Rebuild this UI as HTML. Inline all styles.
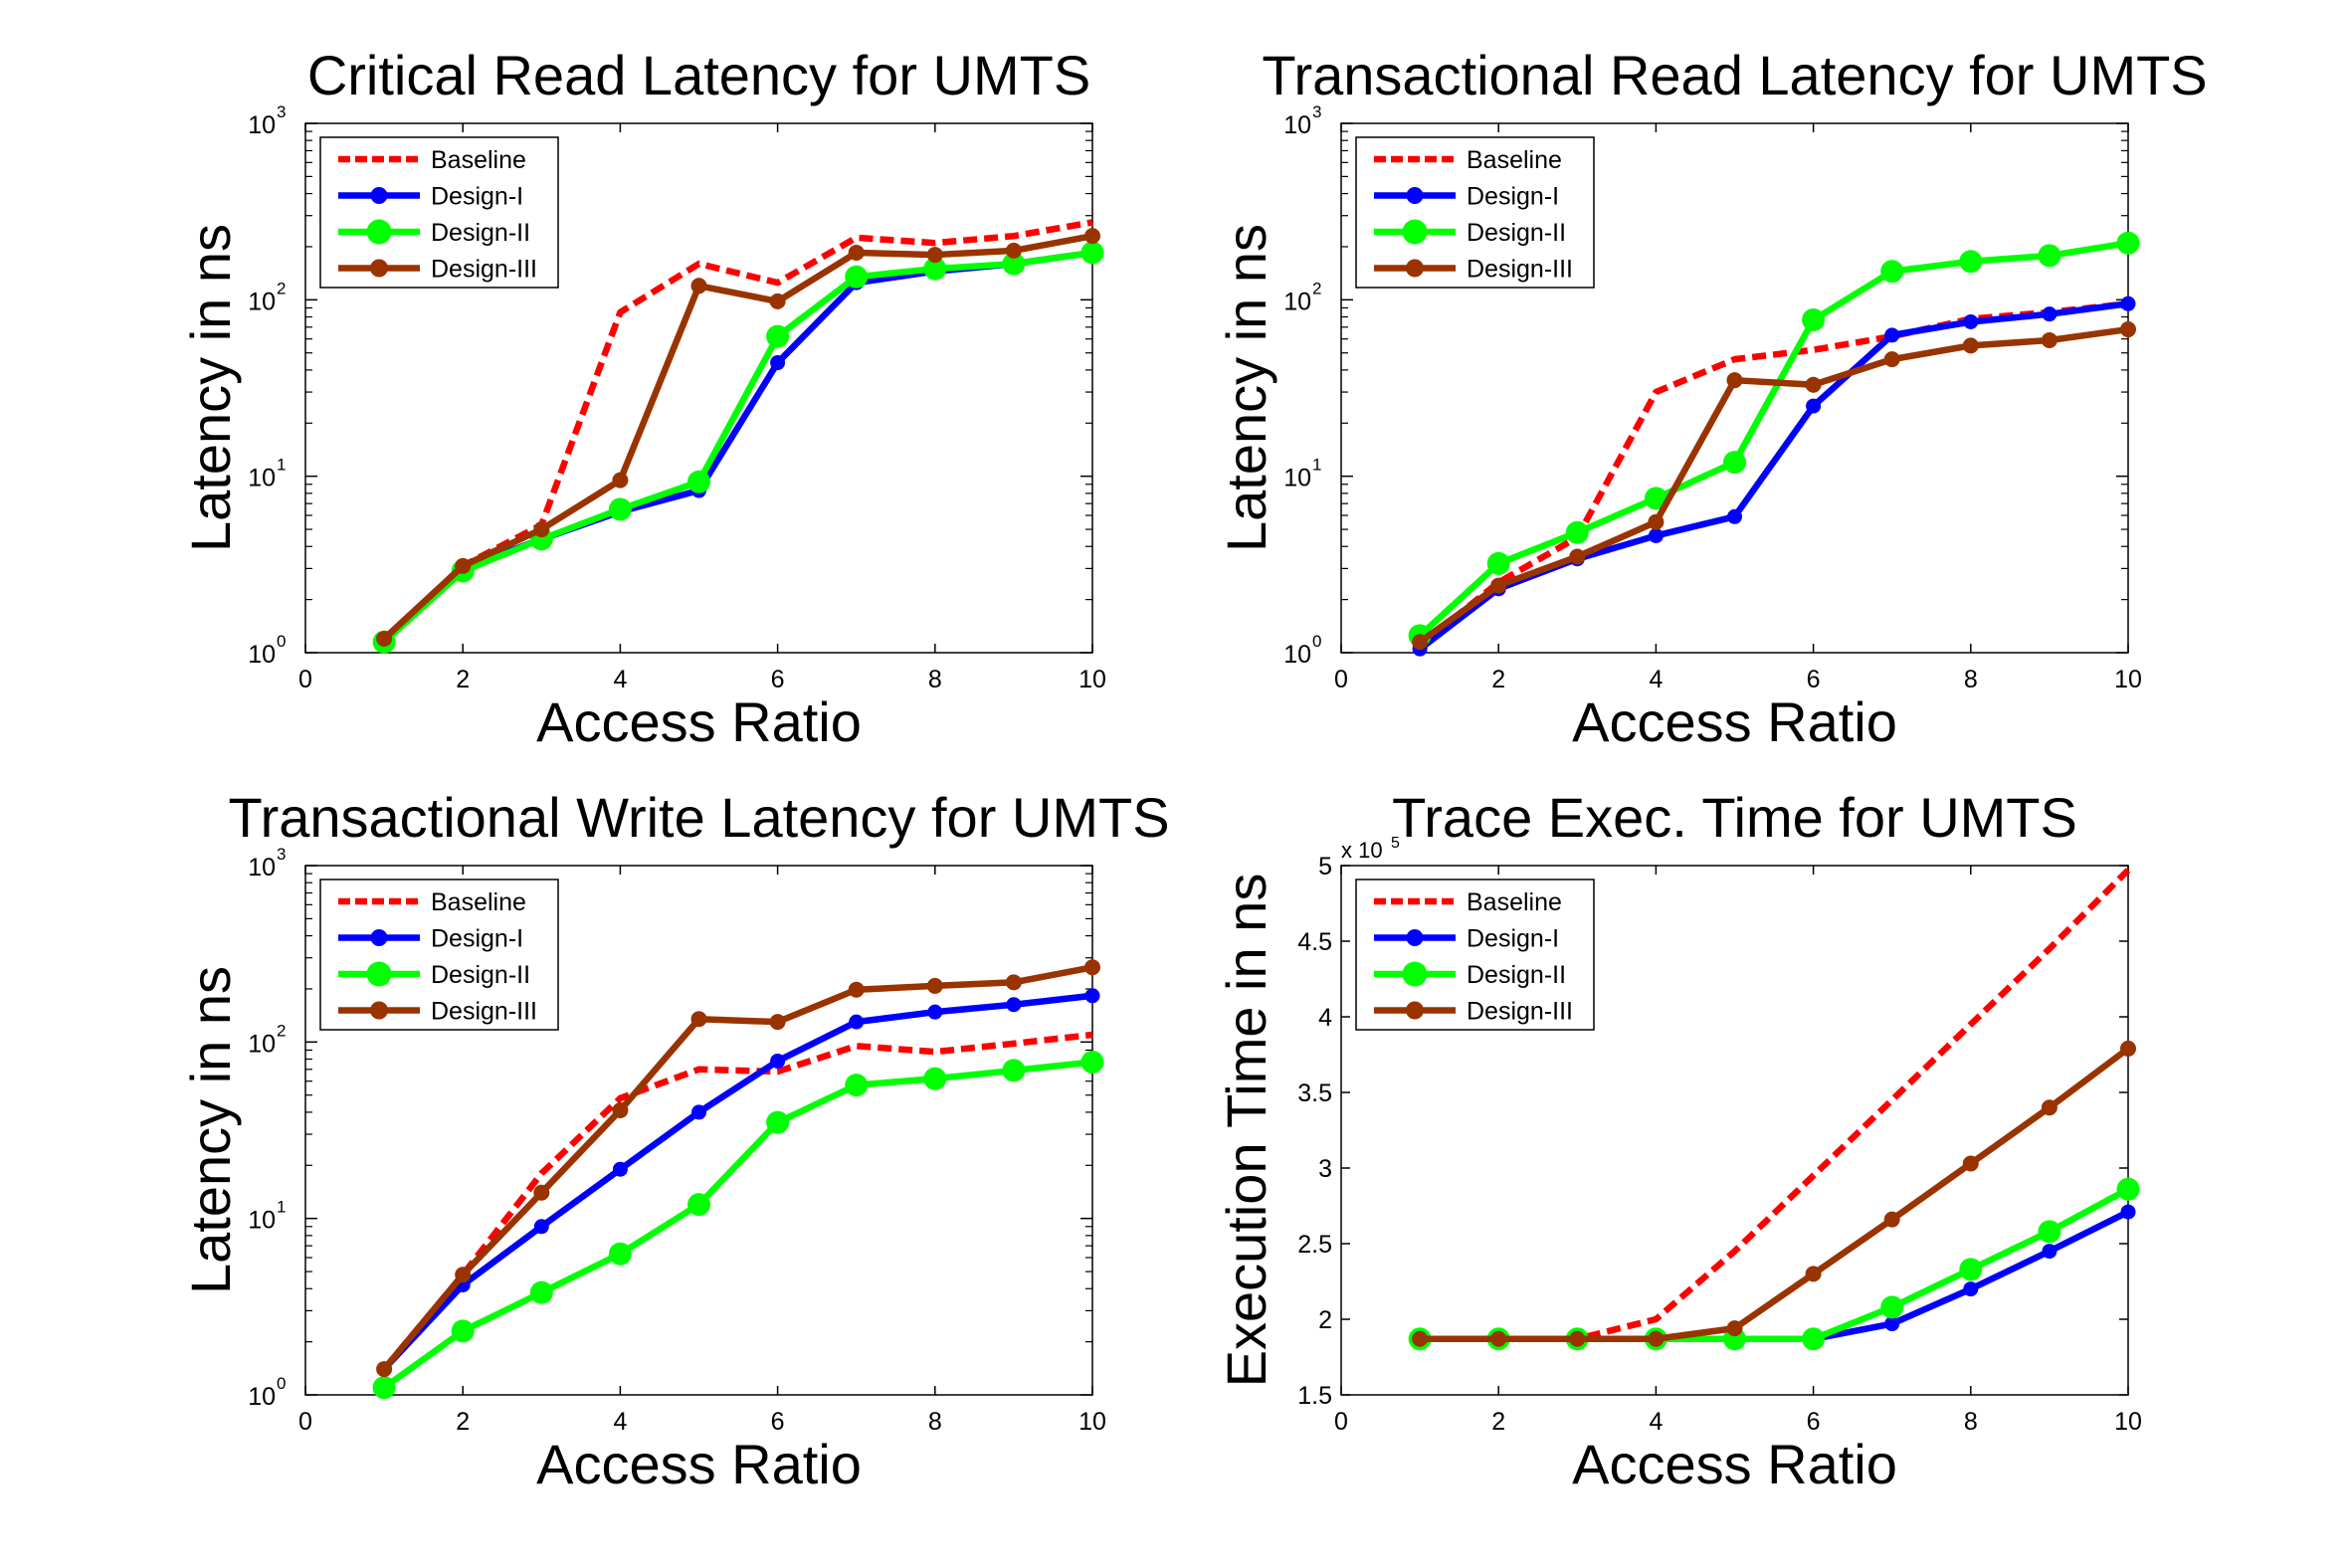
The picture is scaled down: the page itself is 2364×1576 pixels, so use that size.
<!DOCTYPE html>
<html><head><meta charset="utf-8"><style>
html,body{margin:0;padding:0;background:#fff;}
svg{display:block;font-family:"Liberation Sans",Arial,sans-serif;}
</style></head><body>
<svg id="fig" width="2364" height="1576" viewBox="0 0 2364 1576" xmlns="http://www.w3.org/2000/svg"></svg>
<script>
const xs = [1,2,3,4,5,6,7,8,9,10];
const seriesNames = ["Baseline","Design-I","Design-II","Design-III"];
const critBaseline = [1.2,3.1,5.3,85,160,125,225,210,230,275];
const critD1 = [1.15,3.0,4.4,6.3,8.3,44,125,145,160,185];
const critD2 = [1.15,2.9,4.4,6.5,9.3,62,135,150,160,185];
const critD3 = [1.2,3.1,5.0,9.5,120,98,185,180,190,230];
const trBaseline = [1.1,2.5,4.5,30,46,52,62,78,85,95];
const trD1 = [1.05,2.3,3.4,4.6,5.9,25,63,75,83,95];
const trD2 = [1.25,3.2,4.8,7.5,12,77,145,165,178,210];
const trD3 = [1.15,2.4,3.5,5.5,35,33,46,55,59,68];
const twBaseline = [1.4,4.8,18,48,70,68,95,88,98,110];
const twD1 = [1.4,4.2,9,19,40,78,130,148,163,183];
const twD2 = [1.1,2.3,3.8,6.3,12,35,57,62,69,77];
const twD3 = [1.4,4.8,14,41,135,130,198,208,218,265];
const exBaseline = [1.87,1.87,1.87,2.0,2.45,2.95,3.45,3.95,4.45,4.97];
const exD1 = [1.87,1.87,1.87,1.87,1.87,1.87,1.97,2.2,2.45,2.71];
const exD2 = [1.87,1.87,1.87,1.87,1.87,1.87,2.08,2.33,2.58,2.86];
const exD3 = [1.87,1.87,1.87,1.87,1.94,2.3,2.66,3.03,3.4,3.79];
const xTicks = [0,2,4,6,8,10];
const logTicks = [0,1,2,3];
const linTicks = [1.5,2,2.5,3,3.5,4,4.5,5];
const linTickLabels = ["1.5","2","2.5","3","3.5","4","4.5","5"];

const NS="http://www.w3.org/2000/svg";
const svg=document.getElementById('fig');
function el(tag,attrs,parent){const e=document.createElementNS(NS,tag);for(const k in attrs)e.setAttribute(k,attrs[k]);(parent||svg).appendChild(e);return e;}
const styles=[{c:"#ff0000",dash:"14 7",r:0},{c:"#0000ff",dash:null,r:7.5},{c:"#00ff00",dash:null,r:11.5},{c:"#993300",dash:null,r:8}];

function drawPlot(cfg){
  const L=cfg.left,T=cfg.top,W=791,H=532;
  const g=el('g',{});
  
  
  const xMap=v=>L+v/10*W;
  let yMap;
  if(cfg.log){yMap=v=>T+H-(Math.log10(v)/3)*H;}
  else{yMap=v=>T+H-(v-1.5)/3.5*H;}
  const t=el('text',{x:L+W/2,y:T-29,'font-size':56,'text-anchor':'middle'},g);t.textContent=cfg.title;
  
  const box=el('rect',{x:L,y:T,width:W,height:H,fill:'none',stroke:'#000','stroke-width':1.5},g);
  
  xTicks.forEach(v=>{
    const x=xMap(v);
    el('line',{x1:x,y1:T+H,x2:x,y2:T+H-9,stroke:'#000','stroke-width':1.5},g);
    el('line',{x1:x,y1:T,x2:x,y2:T+9,stroke:'#000','stroke-width':1.5},g);
    const tl=el('text',{x:x,y:T+H+35,'font-size':25,'text-anchor':'middle'},g);tl.textContent=v;
    
  });
  if(cfg.log){
    logTicks.forEach(p=>{
      const y=T+H-p/3*H;
      el('line',{x1:L,y1:y,x2:L+12,y2:y,stroke:'#000','stroke-width':1.5},g);
      el('line',{x1:L+W,y1:y,x2:L+W-12,y2:y,stroke:'#000','stroke-width':1.5},g);
      const tl=el('text',{x:L-30,y:y+10,'font-size':25,'text-anchor':'end'},g);tl.textContent='10';
      
      const sp=el('text',{x:L-29,y:y-6,'font-size':17,'text-anchor':'start'},g);sp.textContent=p;
      if(p<3){for(let m=2;m<=9;m++){const ym=yMap(Math.pow(10,p)*m);
        el('line',{x1:L,y1:ym,x2:L+7,y2:ym,stroke:'#000','stroke-width':1.2},g);
        el('line',{x1:L+W,y1:ym,x2:L+W-7,y2:ym,stroke:'#000','stroke-width':1.2},g);}}
    });
  } else {
    linTicks.forEach((v,i)=>{
      const y=yMap(v);
      el('line',{x1:L,y1:y,x2:L+9,y2:y,stroke:'#000','stroke-width':1.5},g);
      el('line',{x1:L+W,y1:y,x2:L+W-9,y2:y,stroke:'#000','stroke-width':1.5},g);
      const tl=el('text',{x:L-9,y:y+9,'font-size':25,'text-anchor':'end'},g);tl.textContent=linTickLabels[i];
      
    });
    const ex=el('text',{x:L,y:T-8,'font-size':22},g);ex.textContent='x 10';
    const e5=el('text',{x:L+50,y:T-18,'font-size':16},g);e5.textContent='5';
  }
  const xl=el('text',{x:L+W/2,y:T+H+89,'font-size':56,'text-anchor':'middle'},g);xl.textContent='Access Ratio';
  
  const cx=L-76,cy=T+H/2;
  const yl=el('text',{x:cx,y:cy,'font-size':56,'text-anchor':'middle',transform:`rotate(-90 ${cx} ${cy})`},g);yl.textContent=cfg.ylabel;
  
  cfg.data.forEach((arr,si)=>{
    const s=styles[si];
    const pts=xs.map((xv,i)=>xMap(xv)+','+yMap(arr[i])).join(' ');
    const pl=el('polyline',{points:pts,fill:'none',stroke:s.c,'stroke-width':6.5,'stroke-linejoin':'round'},g);
    if(s.dash)pl.setAttribute('stroke-dasharray',s.dash);
    
    
    if(s.r){xs.forEach((xv,i)=>{
      const c=el('circle',{cx:xMap(xv),cy:yMap(arr[i]),r:s.r,fill:s.c},g);
      
      
    });}
  });
  const lg=el('g',{},g);
  
  el('rect',{x:L+15,y:T+14,width:239,height:151,fill:'#fff',stroke:'#000','stroke-width':1.5},lg);
  seriesNames.forEach((n,i)=>{
    const y=T+36+i*36.5;const s=styles[i];
    const ln=el('line',{x1:L+33,y1:y,x2:L+115,y2:y,stroke:s.c,'stroke-width':6.5},lg);
    if(s.dash)ln.setAttribute('stroke-dasharray','12 5');
    if(s.r)el('circle',{cx:L+74,cy:y,r:s.r+1,fill:s.c},lg);
    const tx=el('text',{x:L+126,y:y+9,'font-size':25},lg);tx.textContent=n;
    
  });
}
drawPlot({name:'critical-read-chart',left:307,top:124,log:true,title:'Critical Read Latency for UMTS',ylabel:'Latency in ns',data:[critBaseline,critD1,critD2,critD3]});
drawPlot({name:'transactional-read-chart',left:1348,top:124,log:true,title:'Transactional Read Latency for UMTS',ylabel:'Latency in ns',data:[trBaseline,trD1,trD2,trD3]});
drawPlot({name:'transactional-write-chart',left:307,top:870,log:true,title:'Transactional Write Latency for UMTS',ylabel:'Latency in ns',data:[twBaseline,twD1,twD2,twD3]});
drawPlot({name:'trace-exec-chart',left:1348,top:870,log:false,title:'Trace Exec. Time for UMTS',ylabel:'Execution Time in ns',data:[exBaseline,exD1,exD2,exD3]});
</script>
</body></html>
